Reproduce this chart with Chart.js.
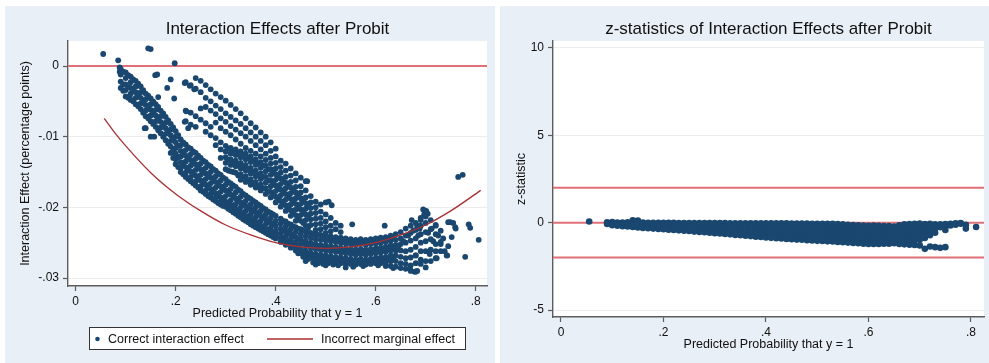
<!DOCTYPE html>
<html>
<head>
<meta charset="utf-8">
<script src="https://cdn.jsdelivr.net/npm/chart.js@4.4.0/dist/chart.umd.min.js"></script>
<style>
  html, body { margin: 0; padding: 0; background: #fff; }
  body { width: 989px; height: 363px; position: relative; overflow: hidden; }
  .panel { position: absolute; top: 6px; height: 357px; background: #e9eff6; }
  #left { left: 5px; width: 490px; }
  #right { left: 500px; width: 489px; }
  canvas { display: block; }
</style>
</head>
<body>
<div class="panel" id="left"><canvas id="chartIE" width="490" height="357"></canvas></div>
<div class="panel" id="right"><canvas id="chartZ" width="489" height="357"></canvas></div>
<script>
// ---- data ----
// columns: [x, y1, y2, ...]
var lowerBand = [
  [.088, -.0002, -.0008],
  [.09, -.0004, -.0012, -.0022, -.0031],
  [.095, -.0008, -.0026, -.0035],
  [.10, -.0009, -.0017, -.0026, -.0034, -.0043],
  [.105, -.0013, -.0030, -.0045],
  [.11, -.0015, -.0023, -.0031, -.0039, -.0048],
  [.115, -.0019, -.0034, -.0050],
  [.12, -.0021, -.0029, -.0037, -.0045, -.0054],
  [.125, -.0025, -.0041, -.0057],
  [.13, -.0029, -.0037, -.0045, -.0053, -.0061],
  [.135, -.0034, -.0050, -.0066],
  [.14, -.0039, -.0047, -.0055, -.0063, -.0071, -.0088],
  [.145, -.0042, -.0058, -.0074],
  [.15, -.0046, -.0054, -.0062, -.0070, -.0078, -.0100],
  [.155, -.0050, -.0066, -.0082],
  [.16, -.0054, -.0062, -.0070, -.0078, -.0086],
  [.165, -.0058, -.0075, -.0091],
  [.17, -.0063, -.0071, -.0079, -.0087, -.0095],
  [.175, -.0067, -.0084, -.0100],
  [.18, -.0072, -.0080, -.0088, -.0096, -.0105],
  [.185, -.0077, -.0093, -.0110],
  [.19, -.0082, -.0090, -.0098, -.0106, -.0114, -.0123],
  [.195, -.0087, -.0103, -.0119, -.0130],
  [.20, -.0092, -.0100, -.0108, -.0116, -.0124, -.0132, -.0139],
  [.205, -.0098, -.0113, -.0129, -.0143],
  [.21, -.0104, -.0112, -.0120, -.0128, -.0136, -.0144, -.0150],
  [.215, -.0108, -.0124, -.0140, -.0153],
  [.22, -.0111, -.0119, -.0127, -.0135, -.0143, -.0151, -.0157],
  [.225, -.0115, -.0131, -.0147, -.0160],
  [.23, -.0117, -.0125, -.0133, -.0141, -.0149, -.0157, -.0163],
  [.235, -.0121, -.0137, -.0153, -.0166],
  [.24, -.0123, -.0131, -.0139, -.0147, -.0155, -.0163, -.0169],
  [.245, -.0127, -.0143, -.0159, -.0172],
  [.25, -.0130, -.0138, -.0146, -.0154, -.0162, -.0170, -.0176],
  [.255, -.0134, -.0150, -.0166, -.0178],
  [.26, -.0136, -.0144, -.0152, -.0160, -.0168, -.0176, -.0181],
  [.265, -.0140, -.0156, -.0172, -.0184],
  [.27, -.0142, -.0150, -.0158, -.0166, -.0174, -.0181, -.0186],
  [.275, -.0146, -.0162, -.0178, -.0189],
  [.28, -.0148, -.0156, -.0164, -.0172, -.0180, -.0186, -.0191],
  [.285, -.0152, -.0168, -.0183, -.0194],
  [.29, -.0154, -.0162, -.0170, -.0178, -.0186, -.0192, -.0196],
  [.295, -.0158, -.0173, -.0188, -.0198],
  [.30, -.0160, -.0168, -.0176, -.0184, -.0192, -.0199],
  [.305, -.0164, -.0179, -.0194, -.0202],
  [.31, -.0166, -.0174, -.0182, -.0190, -.0197, -.0204],
  [.315, -.0169, -.0184, -.0199, -.0207],
  [.32, -.0171, -.0179, -.0187, -.0195, -.0202, -.0209],
  [.325, -.0175, -.0190, -.0204, -.0212],
  [.33, -.0177, -.0185, -.0193, -.0200, -.0207, -.0214],
  [.335, -.0181, -.0195, -.0209, -.0217],
  [.34, -.0183, -.0191, -.0198, -.0205, -.0212, -.0219],
  [.345, -.0186, -.0200, -.0214, -.0221],
  [.35, -.0188, -.0196, -.0203, -.0210, -.0217, -.0224],
  [.355, -.0191, -.0205, -.0219, -.0226],
  [.36, -.0193, -.0200, -.0207, -.0214, -.0221, -.0228],
  [.365, -.0196, -.0210, -.0224, -.0230],
  [.37, -.0198, -.0205, -.0212, -.0219, -.0226, -.0232],
  [.375, -.0201, -.0215, -.0228, -.0234],
  [.38, -.0203, -.0210, -.0217, -.0224, -.0231, -.0236],
  [.385, -.0206, -.0220, -.0233, -.0238],
  [.39, -.0208, -.0215, -.0222, -.0229, -.0235, -.0240],
  [.395, -.0210, -.0224, -.0237, -.0242],
  [.40, -.0212, -.0219, -.0226, -.0233, -.0239, -.0244],
  [.41, -.0216, -.0223, -.0230, -.0237, -.0243, -.0249],
  [.415, -.0219, -.0233, -.0246],
  [.42, -.0220, -.0227, -.0234, -.0241, -.0247, -.0253],
  [.425, -.0223, -.0237, -.0250],
  [.43, -.0224, -.0231, -.0238, -.0245, -.0251, -.0257],
  [.435, -.0227, -.0241, -.0254],
  [.44, -.0228, -.0235, -.0242, -.0249, -.0255, -.0261],
  [.445, -.0230, -.0245, -.0258, -.0265],
  [.45, -.0231, -.0238, -.0245, -.0252, -.0259, -.0265],
  [.455, -.0233, -.0249, -.0262, -.0270],
  [.46, -.0234, -.0241, -.0248, -.0255, -.0262, -.0268, -.0276],
  [.465, -.0236, -.0252, -.0265, -.0273],
  [.47, -.0236, -.0243, -.0250, -.0257, -.0264, -.0271],
  [.475, -.0238, -.0254, -.0268, -.0278],
  [.48, -.0238, -.0245, -.0252, -.0259, -.0266, -.0273, -.0281],
  [.485, -.0239, -.0256, -.0270, -.0279],
  [.49, -.0239, -.0246, -.0253, -.0260, -.0267, -.0275],
  [.495, -.0241, -.0257, -.0272, -.0280],
  [.50, -.0240, -.0247, -.0254, -.0261, -.0268, -.0276, -.0282],
  [.505, -.0243, -.0258, -.0272, -.0279],
  [.51, -.0241, -.0248, -.0255, -.0262, -.0269, -.0277],
  [.515, -.0244, -.0259, -.0273, -.0281],
  [.52, -.0242, -.0249, -.0256, -.0263, -.0270, -.0278],
  [.525, -.0245, -.0260, -.0274, -.0282],
  [.53, -.0243, -.0250, -.0257, -.0264, -.0271, -.0279],
  [.535, -.0247, -.0261, -.0275],
  [.54, -.0244, -.0251, -.0258, -.0265, -.0272, -.0280, -.0285],
  [.545, -.0248, -.0262, -.0276],
  [.55, -.0245, -.0252, -.0259, -.0266, -.0273, -.0280],
  [.555, -.0249, -.0263, -.0277, -.0284],
  [.56, -.0246, -.0253, -.0260, -.0267, -.0274, -.0281],
  [.565, -.0249, -.0263, -.0277],
  [.57, -.0245, -.0252, -.0259, -.0266, -.0273, -.0280],
  [.575, -.0249, -.0263, -.0277, -.0283],
  [.58, -.0246, -.0253, -.0260, -.0267, -.0274, -.0281],
  [.585, -.0249, -.0263, -.0277],
  [.59, -.0245, -.0252, -.0259, -.0266, -.0273, -.0280],
  [.595, -.0248, -.0262, -.0276],
  [.60, -.0244, -.0251, -.0258, -.0265, -.0272, -.0279],
  [.605, -.0247, -.0261, -.0275, -.0282],
  [.61, -.0243, -.0250, -.0257, -.0264, -.0271, -.0279],
  [.615, -.0246, -.0260, -.0275],
  [.62, -.0242, -.0249, -.0256, -.0263, -.0270, -.0278, -.0283],
  [.625, -.0245, -.0259, -.0274],
  [.63, -.0240, -.0247, -.0254, -.0261, -.0268, -.0276, -.0283],
  [.635, -.0243, -.0257, -.0272, -.0286],
  [.64, -.0238, -.0246, -.0253, -.0261, -.0268, -.0276, -.0284],
  [.65, -.0235, -.0244, -.0252, -.0261, -.0270, -.0279, -.0286],
  [.66, -.0230, -.0240, -.0250, -.0262, -.0272, -.0280, -.0287],
  [.67, -.0226, -.0236, -.0247, -.0260, -.0271, -.0282, -.0290],
  [.68, -.0222, -.0232, -.0244, -.0256, -.0268, -.0279, -.0291],
  [.69, -.0215, -.0226, -.0238, -.0250, -.0262, -.0274],
  [.70, -.0207, -.0213, -.0222, -.0235, -.0248, -.0262, -.0276],
  [.71, -.0218, -.0231, -.0245, -.0260],
  [.72, -.0225, -.0238, -.0252, -.0272],
  [.73, -.0233, -.0249, -.0262]
];

var upperCluster = [
  [.22, -.0023, -.0063, -.0078],
  [.23, -.0027, -.0066, -.0083],
  [.24, -.0017, -.0032, -.0071, -.0086],
  [.25, -.0021, -.0037, -.0060, -.0076],
  [.26, -.0027, -.0045, -.0058, -.0081, -.0093],
  [.27, -.0033, -.0050, -.0063, -.0086, -.0098],
  [.28, -.0039, -.0056, -.0068, -.0080, -.0102, -.0112],
  [.29, -.0044, -.0061, -.0074, -.0088, -.0108, -.0118, -.0130],
  [.30, -.0049, -.0067, -.0079, -.0093, -.0113, -.0121, -.0129, -.0137, -.0146],
  [.305, -.0117, -.0133, -.0148],
  [.31, -.0055, -.0072, -.0085, -.0098, -.0116, -.0124, -.0132, -.0140, -.0149],
  [.315, -.0120, -.0136, -.0150],
  [.32, -.0061, -.0077, -.0090, -.0104, -.0118, -.0126, -.0134, -.0142, -.0151],
  [.325, -.0123, -.0139, -.0155],
  [.33, -.0067, -.0082, -.0095, -.0110, -.0121, -.0129, -.0137, -.0145, -.0153, -.0161],
  [.335, -.0126, -.0142, -.0158],
  [.34, -.0074, -.0088, -.0100, -.0116, -.0124, -.0132, -.0140, -.0148, -.0156, -.0164],
  [.345, -.0130, -.0146, -.0162],
  [.35, -.0081, -.0094, -.0106, -.0120, -.0128, -.0136, -.0144, -.0152, -.0160, -.0168],
  [.355, -.0134, -.0150, -.0166],
  [.36, -.0087, -.0100, -.0112, -.0124, -.0132, -.0140, -.0148, -.0156, -.0164, -.0172],
  [.365, -.0138, -.0154, -.0170],
  [.37, -.0094, -.0106, -.0118, -.0128, -.0136, -.0144, -.0152, -.0160, -.0168, -.0176],
  [.375, -.0141, -.0157, -.0173],
  [.38, -.0100, -.0112, -.0124, -.0133, -.0141, -.0149, -.0157, -.0165, -.0173, -.0181],
  [.385, -.0146, -.0162, -.0178],
  [.39, -.0108, -.0120, -.0130, -.0138, -.0146, -.0154, -.0162, -.0170, -.0178, -.0186],
  [.395, -.0150, -.0166, -.0182],
  [.40, -.0117, -.0128, -.0137, -.0145, -.0153, -.0161, -.0169, -.0177, -.0185, -.0193],
  [.405, -.0157, -.0173, -.0189],
  [.41, -.0134, -.0143, -.0151, -.0159, -.0167, -.0175, -.0183, -.0191, -.0199],
  [.415, -.0163, -.0179, -.0195],
  [.42, -.0138, -.0148, -.0157, -.0165, -.0173, -.0181, -.0189, -.0197, -.0205],
  [.425, -.0169, -.0185, -.0201],
  [.43, -.0145, -.0155, -.0164, -.0172, -.0180, -.0188, -.0196, -.0204, -.0212],
  [.435, -.0176, -.0192, -.0208],
  [.44, -.0152, -.0162, -.0171, -.0179, -.0187, -.0195, -.0203, -.0211, -.0219],
  [.445, -.0183, -.0199, -.0215],
  [.45, -.0158, -.0170, -.0179, -.0187, -.0195, -.0203, -.0211, -.0219],
  [.455, -.0190, -.0206, -.0222],
  [.46, -.0163, -.0176, -.0186, -.0194, -.0202, -.0210, -.0218, -.0226],
  [.465, -.0197, -.0213, -.0229],
  [.47, -.0184, -.0193, -.0201, -.0209, -.0217, -.0225],
  [.48, -.0192, -.0200, -.0208, -.0216, -.0224, -.0232],
  [.49, -.0196, -.0206, -.0215, -.0223, -.0231],
  [.50, -.0193, -.0210, -.0220, -.0228, -.0236],
  [.51, -.0215, -.0226, -.0234],
  [.52, -.0222, -.0231],
  [.53, -.0226, -.0235]
];

// pairs [x, y]
var tailPoints = [
  [.645, -.0256], [.655, -.0248], [.665, -.0240], [.675, -.0233], [.683, -.0226],
  [.690, -.0218], [.697, -.0210], [.701, -.0205], [.695, -.0203], [.704, -.0209],
  [.688, -.0230], [.685, -.0240], [.705, -.0236], [.712, -.0230], [.720, -.0226],
  [.715, -.0248], [.725, -.0240], [.730, -.0252], [.720, -.0262], [.735, -.0244],
  [.708, -.0266], [.722, -.0272], [.738, -.0262], [.745, -.0255], [.752, -.0242],
  [.742, -.0268], [.760, -.0230], [.755, -.0222], [.745, -.0221], [.680, -.0268],
  [.690, -.0280], [.700, -.0285], [.710, -.0276], [.678, -.0291], [.669, -.0287],
  [.683, -.0290]
];

var strayPoints = [
  [.055, .0017], [.085, .0008], [.145, .0025], [.150, .0024], [.198, .0004],
  [.163, -.0012], [.183, -.0031], [.190, -.0019], [.197, -.0046], [.159, -.0013],
  [.165, -.0044], [.218, -.0024], [.228, -.0028], [.237, -.0033], [.221, -.0064],
  [.218, -.0079], [.225, -.0088], [.138, -.0088], [.157, -.0100], [.108, -.0043],
  [.463, -.0163], [.506, -.0192], [.512, -.0197], [.553, -.0224], [.618, -.0226],
  [.672, -.0218], [.765, -.0157], [.774, -.0154], [.786, -.0224], [.789, -.0229],
  [.806, -.0246], [.779, -.0270], [.743, -.0268], [.749, -.0221], [.759, -.0228]
];

var marginalX = [.057, .08, .10, .15, .20, .25, .30, .35, .40, .45, .50, .55, .60, .65, .70, .75, .81];
var marginalY = [-.0074, -.0096, -.0113, -.0151, -.0181, -.0205, -.0225, -.0239, -.0250, -.0256, -.0258, -.0256, -.0250, -.0239, -.0225, -.0205, -.0176];

var zBand = [
  [.09, .02, -.08],
  [.10, .03, -.07, -.15],
  [.11, .01, -.09, -.18],
  [.12, .00, -.10, -.20],
  [.13, .02, -.10, -.22],
  [.14, .14, .03, -.09, -.20, -.25],
  [.15, .12, .01, -.11, -.22, -.27],
  [.16, .00, -.12, -.22, -.30],
  [.17, -.01, -.12, -.23, -.32],
  [.18, -.01, -.12, -.24, -.34],
  [.19, -.01, -.13, -.25, -.36],
  [.20, -.01, -.13, -.26, -.38],
  [.21, -.01, -.14, -.27, -.40],
  [.22, -.01, -.15, -.29, -.42],
  [.23, -.02, -.16, -.30, -.44],
  [.24, -.02, -.17, -.31, -.46],
  [.25, -.02, -.17, -.32, -.48],
  [.26, -.02, -.18, -.34, -.51],
  [.27, -.02, -.18, -.35, -.53],
  [.28, -.02, -.19, -.37, -.55],
  [.29, -.02, -.20, -.38, -.57],
  [.30, -.02, -.20, -.39, -.60],
  [.31, -.02, -.21, -.40, -.62],
  [.32, -.02, -.22, -.42, -.65],
  [.33, -.03, -.23, -.44, -.67],
  [.34, -.03, -.24, -.46, -.70],
  [.35, -.03, -.24, -.47, -.72],
  [.36, -.03, -.25, -.48, -.75],
  [.37, -.03, -.25, -.47, -.69, -.77],
  [.38, -.03, -.25, -.48, -.71, -.80],
  [.39, -.03, -.26, -.49, -.72, -.82],
  [.40, -.03, -.26, -.50, -.74, -.85],
  [.41, -.04, -.27, -.51, -.75, -.87],
  [.42, -.04, -.28, -.52, -.76, -.89],
  [.43, -.04, -.28, -.53, -.78, -.91],
  [.44, -.04, -.29, -.54, -.79, -.93],
  [.45, -.05, -.30, -.55, -.80, -.95],
  [.46, -.05, -.30, -.56, -.81, -.97],
  [.47, -.05, -.31, -.57, -.82, -.98],
  [.48, -.05, -.31, -.57, -.83, -1.00],
  [.49, -.06, -.32, -.58, -.84, -1.02],
  [.50, -.06, -.32, -.59, -.85, -1.04],
  [.51, -.06, -.27, -.48, -.69, -.90, -1.05],
  [.52, -.07, -.28, -.49, -.70, -.91, -1.07],
  [.53, -.07, -.28, -.50, -.71, -.92, -1.08],
  [.54, -.08, -.29, -.50, -.72, -.93, -1.10],
  [.55, -.10, -.31, -.52, -.74, -.95, -1.12],
  [.56, -.12, -.33, -.54, -.76, -.97, -1.14],
  [.57, -.14, -.35, -.56, -.78, -.99, -1.16],
  [.58, -.15, -.36, -.57, -.79, -1.00, -1.18],
  [.59, -.16, -.37, -.58, -.80, -1.01, -1.20],
  [.60, -.18, -.38, -.59, -.81, -1.02, -1.22],
  [.61, -.17, -.38, -.59, -.81, -1.02, -1.22],
  [.62, -.18, -.39, -.60, -.82, -1.03, -1.22],
  [.63, -.19, -.40, -.61, -.83, -1.04, -1.21],
  [.64, -.20, -.41, -.62, -.83, -1.04, -1.20],
  [.65, -.22, -.43, -.64, -.85, -1.06, -1.18],
  [.66, -.15, -.36, -.58, -.80, -1.02, -1.22],
  [.67, -.10, -.32, -.55, -.78, -1.00, -1.24],
  [.68, -.08, -.30, -.54, -.78, -1.02, -1.26],
  [.69, -.06, -.28, -.52, -.76, -1.00, -1.28],
  [.70, -.05, -.26, -.50, -.74, -.98, -1.30],
  [.71, -.08, -.30, -.56, -.88, -1.50],
  [.72, -.06, -.22, -.44, -.72, -1.36],
  [.73, -.10, -.34, -.58, -1.40],
  [.74, -.10, -.26, -1.44],
  [.75, -.08, -.20, -.42, -1.40],
  [.76, -.06, -.16],
  [.77, -.03, -.12],
  [.78, -.02, -.06],
  [.79, -.12, -.34],
  [.81, -.25]
];
var zStray = [[.055, .07]];

var xTicks = [0, .2, .4, .6, .8];
var xTickLabels = ['0', '.2', '.4', '.6', '.8'];
var ieTicks = [0, -.01, -.02, -.03];
var ieTickLabels = ['0', '-.01', '-.02', '-.03'];
var zTicks = [10, 5, 0, -5];
var zTickLabels = ['10', '5', '0', '-5'];
var ieRefLines = [0];
var zRefLines = [2, 0, -2];

// ---- helpers ----
const FONT = "'Liberation Sans', Arial, sans-serif";
const NAVY = 'rgb(26,71,111)';
const AXIS = '#5c5c5c';
const REF = 'rgb(224,112,120)';

function fromColumns(cols) {
  var pts = [];
  cols.forEach(function (c) {
    for (var i = 1; i < c.length; i++) pts.push({ x: c[0], y: c[i] });
  });
  return pts;
}
function fromPairs(pairs) {
  return pairs.map(function (p) { return { x: p[0], y: p[1] }; });
}
function fixedTicks(values) {
  return function (scale) { scale.ticks = values.map(function (v) { return { value: v }; }); };
}

// white plot region + reference lines
const plotRegion = {
  id: 'plotRegion',
  beforeDraw(chart) {
    const { ctx, chartArea: a } = chart;
    ctx.save();
    ctx.fillStyle = '#fff';
    ctx.fillRect(a.left, a.top, a.right - a.left, a.bottom - a.top);
    ctx.restore();
  },
  beforeDatasetsDraw(chart, args, opts) {
    const { ctx, chartArea: a } = chart;
    const y = chart.scales.y;
    ctx.save();
    ctx.strokeStyle = opts.color;
    ctx.lineWidth = opts.width;
    (opts.values || []).forEach(function (v) {
      const py = y.getPixelForValue(v);
      ctx.beginPath();
      ctx.moveTo(a.left, py);
      ctx.lineTo(a.right, py);
      ctx.stroke();
    });
    ctx.restore();
  }
};

// Stata style boxed legend under the left panel
const boxedLegend = {
  id: 'boxedLegend',
  afterDraw(chart, args, opts) {
    if (!opts.show) return;
    const ctx = chart.ctx;
    const ds = chart.data.datasets;
    ctx.save();
    ctx.fillStyle = '#fff';
    ctx.fillRect(84, 321, 376, 22);
    ctx.strokeStyle = '#333';
    ctx.lineWidth = 1;
    ctx.strokeRect(84.5, 321.5, 376, 22);
    ctx.fillStyle = NAVY;
    ctx.beginPath();
    ctx.arc(92.5, 333, 2.3, 0, Math.PI * 2);
    ctx.fill();
    ctx.strokeStyle = ds[1].borderColor;
    ctx.lineWidth = 1.3;
    ctx.beginPath();
    ctx.moveTo(262, 333);
    ctx.lineTo(308, 333);
    ctx.stroke();
    ctx.fillStyle = '#111';
    ctx.font = '12.5px ' + FONT;
    ctx.textBaseline = 'middle';
    ctx.fillText(ds[0].label, 103, 333.5);
    ctx.fillText(ds[1].label, 316, 333.5);
    ctx.restore();
  }
};

function axisBase(extra) {
  return Object.assign({
    type: 'linear',
    border: { color: AXIS, width: 1.4 },
  }, extra);
}

const tickFont = { family: FONT, size: 12 };
const titleFont = { family: FONT, size: 12.5 };

// ---- left: interaction effects ----
var iePoints = fromColumns(lowerBand).concat(fromColumns(upperCluster), fromPairs(tailPoints), fromPairs(strayPoints));
var marginalPts = marginalX.map(function (x, i) { return { x: x, y: marginalY[i] }; });

new Chart(document.getElementById('chartIE'), {
  type: 'scatter',
  data: {
    datasets: [
      {
        label: 'Correct interaction effect',
        data: iePoints,
        pointRadius: 2.9,
        pointBackgroundColor: NAVY,
        pointBorderWidth: 0,
        order: 2
      },
      {
        type: 'line',
        label: 'Incorrect marginal effect',
        data: marginalPts,
        borderColor: 'rgb(168,48,52)',
        borderWidth: 1.3,
        pointRadius: 0,
        showLine: true,
        fill: false,
        cubicInterpolationMode: 'monotone',
        order: 1
      }
    ]
  },
  options: {
    responsive: false,
    animation: false,
    devicePixelRatio: 1,
    layout: { padding: { left: 0, right: 8, top: 0, bottom: 0 } },
    plugins: {
      legend: { display: false },
      tooltip: { enabled: false },
      title: {
        display: true,
        text: 'Interaction Effects after Probit',
        fullSize: false,
        color: '#111',
        font: { family: FONT, size: 17, weight: 'normal' },
        padding: { top: 13, bottom: 1.6 }
      },
      plotRegion: { values: ieRefLines, color: REF, width: 2 },
      boxedLegend: { show: true }
    },
    scales: {
      x: axisBase({
        min: -0.0154, max: 0.8226,
        afterBuildTicks: fixedTicks(xTicks),
        afterFit: function (s) { s.height = 77; },
        grid: { drawOnChartArea: false, tickLength: 5, tickColor: AXIS, tickWidth: 1.2 },
        ticks: { autoSkip: false, maxRotation: 0, padding: 3, color: '#111', font: tickFont,
          callback: function (v, i) { return xTickLabels[i]; } },
        title: { display: true, text: 'Predicted Probability that y = 1', color: '#111', font: titleFont,
          padding: { top: 0, bottom: 42 } }
      }),
      y: axisBase({
        min: -0.03113, max: 0.00354,
        afterBuildTicks: fixedTicks(ieTicks),
        afterFit: function (s) { s.width = 63; },
        grid: { color: '#ececec', lineWidth: 1, tickLength: 5, tickColor: AXIS, tickWidth: 1.2 },
        ticks: { autoSkip: false, padding: 4, color: '#111', font: tickFont,
          callback: function (v, i) { return ieTickLabels[i]; } },
        title: { display: true, text: 'Interaction Effect (percentage points)', color: '#111', font: titleFont,
          padding: { top: 13, bottom: 0 } }
      })
    }
  },
  plugins: [plotRegion, boxedLegend]
});

// ---- right: z statistics ----
var zPoints = fromColumns(zBand).concat(fromPairs(zStray));

new Chart(document.getElementById('chartZ'), {
  type: 'scatter',
  data: {
    datasets: [
      {
        label: 'z-statistic',
        data: zPoints,
        pointRadius: 3.3,
        pointBackgroundColor: NAVY,
        pointBorderWidth: 0
      }
    ]
  },
  options: {
    responsive: false,
    animation: false,
    devicePixelRatio: 1,
    layout: { padding: { left: 0, right: 5, top: 0, bottom: 0 } },
    plugins: {
      legend: { display: false },
      tooltip: { enabled: false },
      title: {
        display: true,
        text: 'z-statistics of Interaction Effects after Probit',
        fullSize: false,
        color: '#111',
        font: { family: FONT, size: 17, weight: 'normal' },
        padding: { top: 13, bottom: 1.6 }
      },
      plotRegion: { values: zRefLines, color: REF, width: 2 },
      boxedLegend: { show: false }
    },
    scales: {
      x: axisBase({
        min: -0.0156, max: 0.8254,
        afterBuildTicks: fixedTicks(xTicks),
        afterFit: function (s) { s.height = 46; },
        grid: { drawOnChartArea: false, tickLength: 5, tickColor: AXIS, tickWidth: 1.2 },
        ticks: { autoSkip: false, maxRotation: 0, padding: 3, color: '#111', font: tickFont,
          callback: function (v, i) { return xTickLabels[i]; } },
        title: { display: true, text: 'Predicted Probability that y = 1', color: '#111', font: titleFont,
          padding: { top: 0, bottom: 10.5 } }
      }),
      y: axisBase({
        min: -5.4, max: 10.4,
        afterBuildTicks: fixedTicks(zTicks),
        afterFit: function (s) { s.width = 53; },
        grid: { color: '#ececec', lineWidth: 1, tickLength: 5, tickColor: AXIS, tickWidth: 1.2 },
        ticks: { autoSkip: false, padding: 4, color: '#111', font: tickFont,
          callback: function (v, i) { return zTickLabels[i]; } },
        title: { display: true, text: 'z-statistic', color: '#111', font: titleFont,
          padding: { top: 14.5, bottom: 0 } }
      })
    }
  },
  plugins: [plotRegion, boxedLegend]
});
</script>
</body>
</html>
